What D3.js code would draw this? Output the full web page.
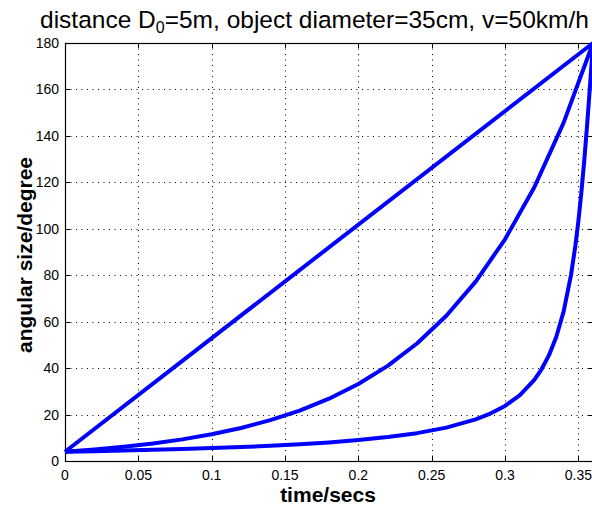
<!DOCTYPE html>
<html>
<meta charset="utf-8">
<style>
body { margin: 0; background: #fff; }
svg { display: block; font-family: "Liberation Sans", Arial, Helvetica, sans-serif; }
.grid line { stroke: #000; stroke-width: 1; stroke-dasharray: 1,4.5; }
.tick-label { font-size: 14px; fill: #000; }
.axis-label { font-size: 21px; font-weight: bold; fill: #000; }
.curve { fill: none; stroke: #0000ff; stroke-width: 4; stroke-linejoin: round; }
</style>
<body>
<svg id="chart" width="592" height="506"></svg>
<script src="https://d3js.org/d3.v7.min.js"></script>
<script>

// tick values
var xTicks = [0, 0.05, 0.1, 0.15, 0.2, 0.25, 0.3, 0.35];
var yTicks = [0, 20, 40, 60, 80, 100, 120, 140, 160, 180];

// linear growth of angular size
var linearTime = [0, 0.36];
var linearAngle = [4.0, 180];

// exponential growth
var expTime = [0, 0.02, 0.04, 0.06, 0.08, 0.10, 0.12, 0.14, 0.16, 0.18, 0.20,
               0.22, 0.24, 0.26, 0.28, 0.30, 0.32, 0.34, 0.36];
var expAngle = [4.0, 4.94, 6.11, 7.54, 9.32, 11.52, 14.23, 17.58, 21.72, 26.83, 33.15,
                40.96, 50.60, 62.52, 77.25, 95.45, 117.9, 145.7, 180];

// real angular size of approaching object
var realTime = [0, 0.02, 0.04, 0.06, 0.08, 0.10, 0.12, 0.14, 0.16, 0.18, 0.20,
                0.22, 0.24, 0.26, 0.28, 0.29, 0.30, 0.31, 0.32, 0.325, 0.33, 0.335,
                0.34, 0.345, 0.348, 0.35, 0.352, 0.354, 0.356, 0.358, 0.359, 0.36];
var realAngle = [4.01, 4.24, 4.51, 4.81, 5.15, 5.55, 6.01, 6.56, 7.21, 8.01, 9.01,
                 10.29, 11.99, 14.36, 17.90, 20.41, 23.72, 28.29, 34.97, 39.60, 45.57, 53.50,
                 64.42, 80.06, 92.79, 103.1, 115.2, 129.1, 144.8, 162.0, 170.9, 180];

var svg = d3.select("#chart");
var pLeft = 65, pRight = 593, pTop = 43, pBottom = 461;

var x = d3.scaleLinear().domain([0, 0.36]).range([pLeft, pRight]);
var y = d3.scaleLinear().domain([0, 180]).range([pBottom, pTop]);

// dotted grid
var grid = svg.append("g").attr("class", "grid");
grid.selectAll(".gx").data(xTicks.slice(1)).enter().append("line")
    .attr("x1", function(d) { return Math.round(x(d)) + 0.5; })
    .attr("x2", function(d) { return Math.round(x(d)) + 0.5; })
    .attr("y1", pTop).attr("y2", pBottom);
grid.selectAll(".gy").data(yTicks.slice(1, -1)).enter().append("line")
    .attr("y1", function(d) { return Math.round(y(d)) + 0.5; })
    .attr("y2", function(d) { return Math.round(y(d)) + 0.5; })
    .attr("x1", pLeft).attr("x2", pRight);

// inward ticks on all four sides
var tk = svg.append("g").attr("stroke", "#000").attr("stroke-width", 1);
xTicks.forEach(function(d) {
    var px = Math.round(x(d)) + 0.5;
    tk.append("line").attr("x1", px).attr("x2", px).attr("y1", pBottom).attr("y2", pBottom - 5);
    tk.append("line").attr("x1", px).attr("x2", px).attr("y1", pTop).attr("y2", pTop + 5);
});
yTicks.forEach(function(d) {
    var py = Math.round(y(d)) + 0.5;
    tk.append("line").attr("x1", pLeft).attr("x2", pLeft + 5).attr("y1", py).attr("y2", py);
    tk.append("line").attr("x1", pRight).attr("x2", pRight - 5).attr("y1", py).attr("y2", py);
});

// box
svg.append("rect")
    .attr("x", pLeft + 0.5).attr("y", pTop + 0.5)
    .attr("width", pRight - pLeft).attr("height", pBottom - pTop)
    .attr("fill", "none").attr("stroke", "#000").attr("stroke-width", 1.2);

// tick labels
svg.selectAll(".xl").data(xTicks).enter().append("text")
    .attr("class", "tick-label")
    .attr("x", function(d) { return x(d); })
    .attr("y", 480)
    .attr("text-anchor", "middle")
    .text(function(d) { return d; });
svg.selectAll(".yl").data(yTicks).enter().append("text")
    .attr("class", "tick-label")
    .attr("x", 59)
    .attr("y", function(d) { return y(d) + 5; })
    .attr("text-anchor", "end")
    .text(function(d) { return d; });

// curves
var line = d3.line()
    .x(function(d) { return x(d[0]); })
    .y(function(d) { return y(d[1]); });

[[linearTime, linearAngle], [expTime, expAngle], [realTime, realAngle]].forEach(function(s) {
    svg.append("path")
        .datum(d3.zip(s[0], s[1]))
        .attr("class", "curve")
        .attr("d", line);
});

// axis labels
svg.append("text")
    .attr("class", "axis-label")
    .attr("x", 328).attr("y", 502)
    .attr("text-anchor", "middle")
    .text("time/secs");
svg.append("text")
    .attr("class", "axis-label")
    .attr("transform", "translate(32,255) rotate(-90)")
    .attr("text-anchor", "middle")
    .text("angular size/degree");

// title
var title = svg.append("text")
    .attr("x", 40).attr("y", 28)
    .attr("font-size", 24.5)
    .attr("fill", "#000");
title.append("tspan").text("distance D");
title.append("tspan").attr("font-size", 16).attr("dy", 5).text("0");
title.append("tspan").attr("dy", -5).text("=5m, object diameter=35cm, v=50km/h");

</script>
</body>
</html>
